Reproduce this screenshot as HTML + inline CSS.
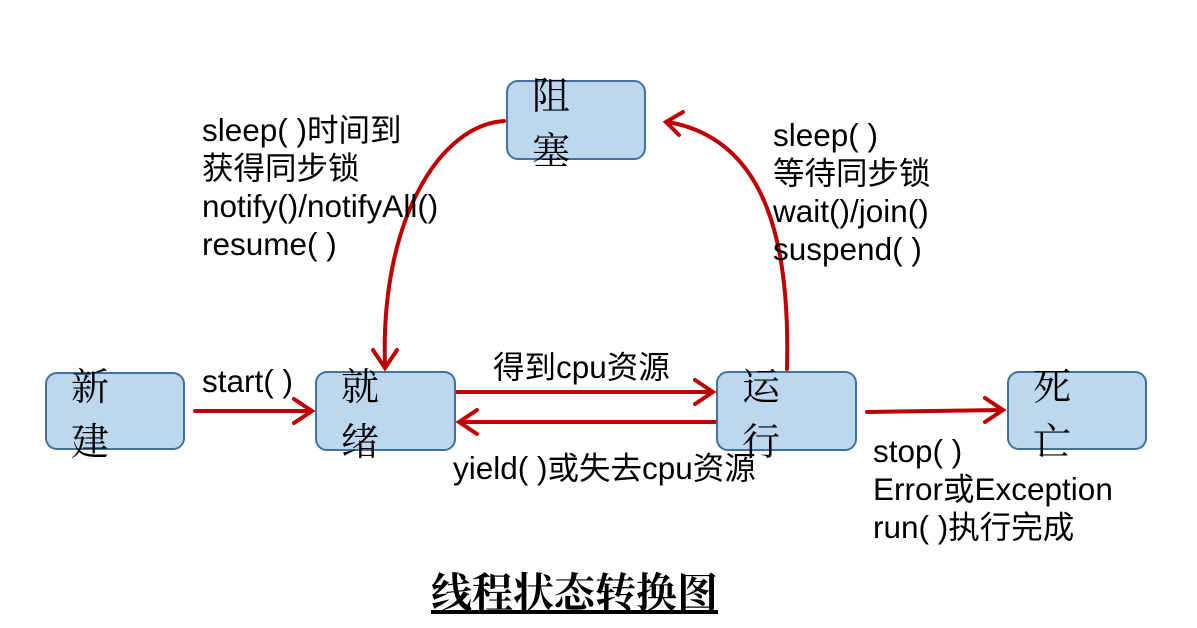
<!DOCTYPE html>
<html><head><meta charset="utf-8"><style>
body{margin:0;background:#fff;}
.w{position:relative;width:1197px;height:628px;overflow:hidden;font-family:"Liberation Sans","Noto Sans CJK SC",sans-serif;}
.n{position:absolute;box-sizing:border-box;background:#bdd7ee;border:2px solid #41719c;border-radius:12px;display:flex;align-items:center;justify-content:center;font-family:"Liberation Serif","Noto Serif CJK SC",serif;font-size:38px;letter-spacing:24px;padding-left:24px;color:#000;}
.t{position:absolute;font-size:31.5px;line-height:38px;color:#000;white-space:nowrap;}
svg{position:absolute;left:0;top:0;}
</style></head><body><div class="w">
<svg width="1197" height="628">
<g stroke="#c00000" stroke-width="4" fill="none" stroke-linecap="round">
<path d="M195 411 L311 411"/><path d="M294 399 L312 411 L294 423"/>
<path d="M457 392 L712 392"/><path d="M695 380 L713 392 L695 404"/>
<path d="M716 422 L460 422"/><path d="M477 410 L459 422 L477 434"/>
<path d="M867 412 L1002 410"/><path d="M985 398 L1003 410 L985 422"/>
<path d="M504 121 C440 125 380 220 385 366"/><path d="M373 350 L385 368 L397 350"/>
<path d="M787 369 C790 250 770 140 668 122"/><path d="M683 112 L666 122 L679 135"/>
</g></svg>
<div class="n" style="left:45px;top:372px;width:140px;height:78px">新建</div>
<div class="n" style="left:315px;top:371px;width:141px;height:80px">就绪</div>
<div class="n" style="left:716px;top:371px;width:141px;height:80px">运行</div>
<div class="n" style="left:1007px;top:371px;width:140px;height:79px">死亡</div>
<div class="n" style="left:506px;top:80px;width:140px;height:80px">阻塞</div>
<div class="t" style="left:202px;top:111px">sleep( )时间到<br>获得同步锁<br>notify()/notifyAll()<br>resume( )</div>
<div class="t" style="left:773px;top:116px">sleep( )<br>等待同步锁<br>wait()/join()<br>suspend( )</div>
<div class="t" style="left:202px;top:362px">start( )</div>
<div class="t" style="left:493px;top:348px">得到cpu资源</div>
<div class="t" style="left:453px;top:449px">yield( )或失去cpu资源</div>
<div class="t" style="left:873px;top:432px">stop( )<br>Error或Exception<br>run( )执行完成</div>
<div class="t" style="left:431px;top:566px;font-size:41px;line-height:48px;font-weight:bold;text-decoration:underline;font-family:'Noto Serif CJK SC',serif">线程状态转换图</div>
</div></body></html>
